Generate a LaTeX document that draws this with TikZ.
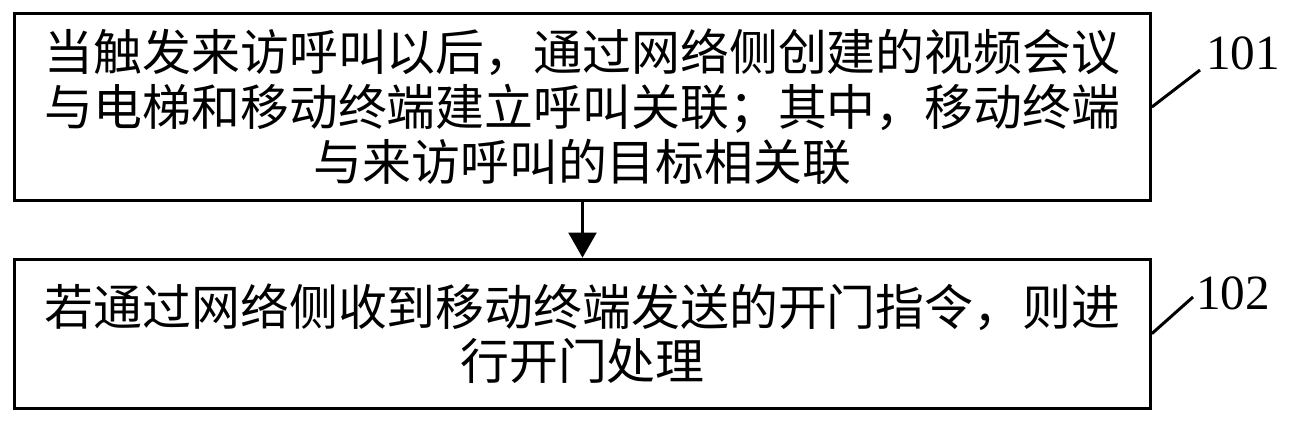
\documentclass[tikz,border=0pt]{standalone}
\usepackage{fontspec}
\setmainfont{Liberation Serif}
\newfontfamily\cjk{Noto Sans CJK SC}
\usetikzlibrary{arrows.meta,positioning}

\begin{document}
\begin{tikzpicture}[x=0.01cm, y=-0.01cm,
    stepbox/.style={draw=black, line width=0.85pt, minimum width=11.35cm,
                minimum height=1.86cm, align=center, inner sep=0pt,
                font=\cjk\fontsize{13.9}{15.6}\selectfont},
    tag/.style={font=\fontsize{14}{14}\selectfont, inner sep=0pt},
    lead/.style={line width=0.85pt},
    arr/.style={-{Triangle[length=2.5mm, width=2.8mm]}, line width=0.6pt}
]
\useasboundingbox (0,0) rectangle (1289,420);
\node[stepbox] (s1) at (582.5,107) {当触发来访呼叫以后，通过网络侧创建的视频会议\\与电梯和移动终端建立呼叫关联；其中，移动终端\\与来访呼叫的目标相关联};
\node[stepbox, minimum height=1.49cm, below=0.56cm of s1] (s2) {若通过网络侧收到移动终端发送的开门指令，则进\\行开门处理};

\coordinate (c1) at (1200,70);
\coordinate (c2) at (1193,297);
\node[tag] (t1) at (1243,53) {101};
\node[tag] (t2) at (1233,293) {102};

\draw[arr] (s1) -- (s2);
\draw[lead] (s1.east) -- (c1);
\draw[lead] (s2.east) -- (c2);
\end{tikzpicture}
\end{document}
